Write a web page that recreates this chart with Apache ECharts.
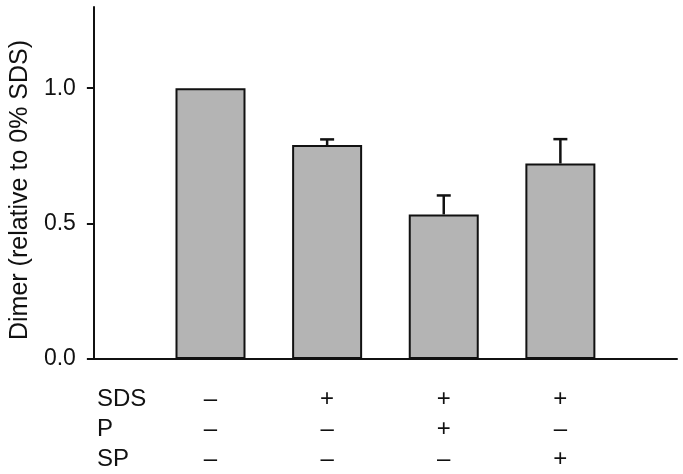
<!DOCTYPE html>
<html>
<head>
<meta charset="utf-8">
<script src="https://cdn.jsdelivr.net/npm/echarts@6/dist/echarts.min.js"></script>
<style>
  html, body { margin: 0; padding: 0; background: #fff; }
  #chart { width: 683px; height: 474px; }
</style>
</head>
<body>
<div id="chart"></div>
<script>
// bar positions on the x axis (1..4), values relative to 0% SDS
const positions = [1, 2, 3, 4];
const dimer = [1.0, 0.79, 0.534, 0.722];
const errUp = [0, 0.021, 0.07, 0.09];
const yTicks = [0, 0.5, 1.0];

// treatment table under the axis
const rowNames = ["SDS", "P", "SP"];
const sdsSigns = ["–", "+", "+", "+"];
const pSigns = ["–", "–", "+", "–"];
const spSigns = ["–", "–", "–", "+"];

const font = "Liberation Sans, Arial, sans-serif";
const ink = "#111";

const myChart = echarts.init(document.getElementById("chart"));

let option = {
  animation: false,
  backgroundColor: "#fff",
  grid: { left: 93, right: 6, top: 7, bottom: 115 },
  xAxis: {
    type: "value",
    min: 0,
    max: 5,
    interval: 1,
    splitLine: { show: false },
    axisTick: { show: false },
    axisLine: { lineStyle: { color: ink, width: 2 } },
    axisLabel: {
      customValues: positions,
      margin: 25,
      fontSize: 24,
      lineHeight: 30,
      fontFamily: font,
      color: ink,
      formatter: function (v) {
        let i = positions.indexOf(v);
        if (i < 0) return "";
        return [sdsSigns[i], pSigns[i], spSigns[i]].join("\n");
      }
    }
  },
  yAxis: {
    type: "value",
    min: 0,
    max: 1.3,
    name: "Dimer (relative to 0% SDS)",
    nameLocation: "middle",
    nameGap: 57,
    nameTextStyle: { fontSize: 25, fontFamily: font, color: ink, padding: [0, 14, 0, 0] },
    splitLine: { show: false },
    axisLine: { show: true, lineStyle: { color: ink, width: 2 } },
    axisTick: { show: true, length: 7, customValues: yTicks, lineStyle: { color: ink, width: 2 } },
    axisLabel: {
      customValues: yTicks,
      margin: 18,
      fontSize: 23,
      fontFamily: font,
      color: ink,
      formatter: function (v) { return v.toFixed(1); }
    }
  },
  graphic: [
    {
      type: "text",
      left: 97,
      top: 384,
      style: {
        text: rowNames.join("\n"),
        fontSize: 24,
        lineHeight: 30,
        fontFamily: font,
        fill: ink
      }
    }
  ],
  series: [
    {
      type: "bar",
      barWidth: 70,
      data: positions.map((x, i) => [x, dimer[i]]),
      itemStyle: { color: "#b4b4b4", borderColor: ink, borderWidth: 2 },
      z: 2
    },
    {
      type: "custom",
      z: 3,
      data: positions.map((x, i) => [x, dimer[i], errUp[i]]),
      renderItem: function (params, api) {
        if (!api.value(2)) return null;
        let base = api.coord([api.value(0), api.value(1)]);
        let top = api.coord([api.value(0), api.value(1) + api.value(2)]);
        let st = { stroke: ink, lineWidth: 2.5 };
        return {
          type: "group",
          children: [
            { type: "line", shape: { x1: base[0], y1: base[1], x2: top[0], y2: top[1] }, style: st },
            { type: "line", shape: { x1: top[0] - 7, y1: top[1], x2: top[0] + 7, y2: top[1] }, style: st }
          ]
        };
      }
    }
  ]
};

myChart.setOption(option);
</script>
</body>
</html>
